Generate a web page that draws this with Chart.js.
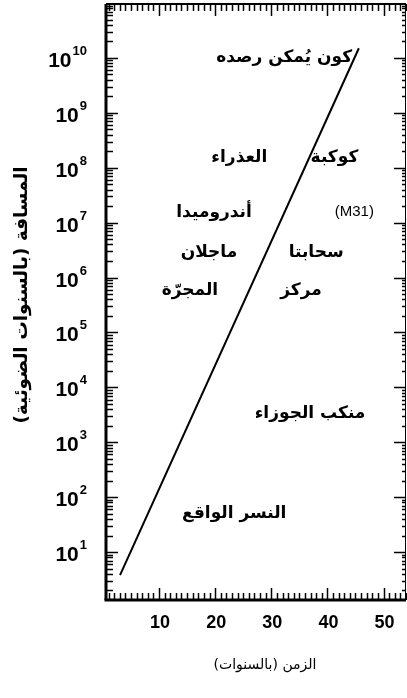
<!DOCTYPE html>
<html lang="ar">
<head>
<meta charset="utf-8">
<title>المسافة والزمن</title>
<script src="https://cdn.jsdelivr.net/npm/chart.js@4.4.1/dist/chart.umd.min.js"></script>
<style>
    html, body { margin: 0; padding: 0; background: #fff; }
    #wrap { width: 407px; height: 698px; }
</style>
</head>
<body>
<div id="wrap"><canvas id="myChart" width="407" height="698"></canvas></div>
<script>
// the line: time (years) against distance (light years)
const times = [3.05, 45.6];
const distances = [3.8, 1.5e10];

// tick labels
const xTicks = [10, 20, 30, 40, 50];
const yExponents = [1, 2, 3, 4, 5, 6, 7, 8, 9, 10];

const xTitle = 'الزمن (بالسنوات)';
const yTitle = 'المسافة (بالسنوات الضوئية)';

// names written inside the plot, placed in data units
const objectNames = ['كون يُمكن رصده', 'كوكبة', 'العذراء', 'أندروميدا', '(M31)', 'ماجلان', 'سحابتا', 'المجرّة', 'مركز', 'منكب الجوزاء', 'النسر الواقع'];
const objectTimes = [44.4, 45.5, 24.3, 19.8, 44.8, 18.9, 38.0, 15.5, 35.3, 36.9, 23.4];
const objectDistances = [1e10, 1.5e8, 1.5e8, 1.55e7, 1.55e7, 2.9e6, 2.9e6, 5.9e5, 5.9e5, 3.4e3, 51];
const objectAlign = ['right', 'right', 'center', 'center', 'center', 'center', 'center', 'center', 'center', 'center', 'center'];

const isArabic = s => /[\u0600-\u06FF]/.test(s);

const line = (ctx, x1, y1, x2, y2) => {
    ctx.beginPath();
    ctx.moveTo(x1, y1);
    ctx.lineTo(x2, y2);
    ctx.stroke();
};

const frame = {
    id: 'frame',
    afterDraw(chart) {
        const { ctx, chartArea: a, scales: { x, y } } = chart;
        ctx.save();
        ctx.strokeStyle = '#000';
        ctx.fillStyle = '#000';

        // box
        ctx.lineWidth = 3;
        line(ctx, a.left, a.top, a.left, a.bottom);
        line(ctx, a.left - 1.5, a.bottom, a.right, a.bottom);
        ctx.lineWidth = 2;
        line(ctx, a.left, a.top, a.right, a.top);
        ctx.lineWidth = 1;
        line(ctx, a.right - 0.5, a.top, a.right - 0.5, a.bottom);

        // x ticks, top and bottom, pointing in
        ctx.lineWidth = 1.5;
        for (let v = Math.ceil(x.min); v <= x.max; v++) {
            const px = Math.round(x.getPixelForValue(v)) + 0.5;
            const len = v % 10 === 0 ? 12 : 7;
            line(ctx, px, a.bottom, px, a.bottom - len);
            line(ctx, px, a.top, px, a.top + len);
        }

        // y ticks, log minors
        ctx.lineWidth = 1.5;
        for (let e = 0; e <= 10; e++) {
            for (let m = 1; m <= 9; m++) {
                const v = m * Math.pow(10, e);
                if (v < y.min || v > y.max) continue;
                const py = Math.round(y.getPixelForValue(v)) + 0.5;
                const major = m === 1;
                line(ctx, a.left, py, a.left + (major ? 12 : 7), py);
                line(ctx, a.right, py, a.right - (major ? 12 : 4), py);
            }
        }

        // y tick labels 10^n
        ctx.textBaseline = 'alphabetic';
        ctx.direction = 'ltr';
        ctx.textAlign = 'right';
        yExponents.forEach(n => {
            const py = y.getPixelForValue(Math.pow(10, n));
            const sup = String(n);
            ctx.font = 'bold 13px "Liberation Sans Narrow", "Liberation Sans", sans-serif';
            const sw = ctx.measureText(sup).width;
            ctx.fillText(sup, 87, py - 3);
            ctx.font = 'bold 21px "Liberation Sans Narrow", "Liberation Sans", sans-serif';
            ctx.fillText('10', 86 - sw, py + 9);
        });

        // x tick labels
        ctx.font = 'bold 18px "Liberation Sans", sans-serif';
        ctx.textAlign = 'center';
        ctx.textBaseline = 'middle';
        xTicks.forEach(v => {
            ctx.fillText(String(v), x.getPixelForValue(v) + 1, 623);
        });

        // axis titles
        ctx.direction = 'rtl';
        ctx.font = '14px "DejaVu Sans", sans-serif';
        ctx.fillText(xTitle, 265, 665);
        ctx.save();
        ctx.translate(22, 295);
        ctx.rotate(-Math.PI / 2);
        ctx.font = 'bold 18.5px "DejaVu Sans", sans-serif';
        ctx.fillText(yTitle, 0, 0);
        ctx.restore();

        // names in the plot
        objectNames.forEach((name, i) => {
            ctx.direction = isArabic(name) ? 'rtl' : 'ltr';
            ctx.font = isArabic(name) ? 'bold 17px "DejaVu Sans", sans-serif' : '15px "Liberation Sans", sans-serif';
            ctx.textAlign = objectAlign[i];
            ctx.fillText(name, x.getPixelForValue(objectTimes[i]), y.getPixelForValue(objectDistances[i]));
        });

        ctx.restore();
    }
};

new Chart("myChart", {
    type: "line",
    data: {
        datasets: [{
            data: times.map((t, i) => ({ x: t, y: distances[i] })),
            borderColor: '#000',
            borderWidth: 2,
            pointRadius: 0,
            fill: false,
            tension: 0
        }]
    },
    options: {
        responsive: false,
        animation: false,
        devicePixelRatio: 1,
        layout: {
            autoPadding: false,
            padding: { left: 106, right: 1, top: 4, bottom: 98 }
        },
        scales: {
            x: { type: 'linear', min: 0.55, max: 54, display: false },
            y: { type: 'logarithmic', min: 1.34, max: 9.6e10, display: false }
        },
        plugins: {
            legend: { display: false },
            tooltip: { enabled: false }
        }
    },
    plugins: [frame]
});
</script>
</body>
</html>
